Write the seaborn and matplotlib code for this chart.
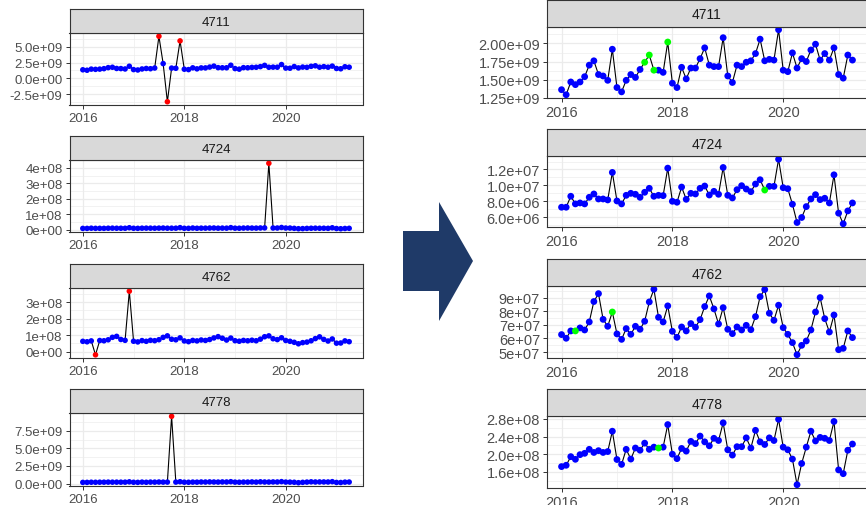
import numpy as np
import pandas as pd
import matplotlib
matplotlib.use("Agg")
import matplotlib.pyplot as plt
import seaborn as sns
from matplotlib.patches import Polygon

# ---------------------------------------------------------------- data
months = pd.date_range("2016-01-01", periods=64, freq="MS")
series_ids = ["4711", "4724", "4762", "4778"]

# cleaned monthly series
clean_4711 = np.array([
    1.36, 1.29, 1.467, 1.43, 1.467, 1.54, 1.70, 1.76, 1.57, 1.55,
    1.49, 1.92, 1.39, 1.33, 1.49, 1.57, 1.53, 1.64, 1.74, 1.84,
    1.63, 1.63, 1.60, 2.02, 1.45, 1.39, 1.67, 1.51, 1.66, 1.66,
    1.79, 1.94, 1.70, 1.68, 1.68, 2.08, 1.55, 1.46, 1.70, 1.68,
    1.74, 1.76, 1.86, 2.06, 1.76, 1.78, 1.77, 2.19, 1.63, 1.61,
    1.87, 1.66, 1.79, 1.75, 1.91, 1.99, 1.77, 1.86, 1.77, 1.94,
    1.57, 1.52, 1.84, 1.77]) * 1e9
clean_4724 = np.array([
    7.25, 7.25, 8.63, 7.67, 7.79, 7.67, 8.50, 8.92, 8.29, 8.29,
    8.17, 11.63, 8.04, 7.67, 8.75, 9.00, 8.88, 8.50, 9.13, 9.63,
    8.63, 8.75, 8.71, 12.17, 8.00, 7.88, 9.79, 8.25, 9.00, 8.92,
    9.63, 9.92, 8.79, 9.25, 8.88, 12.25, 8.75, 8.42, 9.46, 9.96,
    9.54, 9.21, 10.17, 10.71, 9.42, 9.88, 9.88, 13.29, 9.71, 9.58,
    7.63, 5.33, 5.96, 7.33, 8.29, 8.83, 8.21, 8.38, 7.79, 11.33,
    6.50, 5.17, 6.79, 7.79]) * 1e6
clean_4762 = np.array([
    6.28, 6.01, 6.55, 6.55, 6.77, 6.62, 7.21, 8.71, 9.29, 7.40,
    6.89, 7.94, 6.33, 5.93, 6.72, 6.30, 6.89, 6.67, 7.26, 8.68,
    9.61, 7.55, 7.21, 8.39, 6.52, 6.08, 6.84, 6.55, 7.09, 6.82,
    7.38, 8.34, 9.12, 8.17, 7.06, 8.26, 6.67, 6.35, 6.84, 6.62,
    6.96, 6.64, 7.60, 9.07, 9.59, 7.85, 7.33, 8.44, 6.79, 6.30,
    5.69, 4.80, 5.49, 5.81, 6.62, 7.94, 9.00, 7.45, 6.47, 7.72,
    5.17, 5.27, 6.55, 6.06]) * 1e7
clean_4778 = np.array([
    1.72, 1.75, 1.945, 1.885, 1.99, 2.02, 2.11, 2.04, 2.08, 2.04,
    2.06, 2.52, 1.88, 1.77, 2.11, 1.89, 2.14, 2.09, 2.25, 2.11,
    2.16, 2.14, 2.16, 2.67, 2.00, 1.90, 2.13, 2.07, 2.29, 2.24,
    2.41, 2.28, 2.19, 2.36, 2.31, 2.71, 2.10, 1.98, 2.17, 2.17,
    2.37, 2.14, 2.54, 2.28, 2.22, 2.37, 2.31, 2.79, 2.16, 2.10,
    1.89, 1.31, 1.79, 2.16, 2.52, 2.30, 2.38, 2.36, 2.31, 2.74,
    1.645, 1.56, 2.09, 2.23]) * 1e8

# original readings at the months that were replaced
raw_idx_4711 = [18, 19, 20, 23]
raw_val_4711 = [6.67e9, 2.34e9, -3.70e9, 5.94e9]
raw_idx_4724 = [44]
raw_val_4724 = [4.30e8]
raw_idx_4762 = [3, 11]
raw_val_4762 = [-1.9e7, 3.67e8]
raw_idx_4778 = [21]
raw_val_4778 = [9.54e9]

# months flagged as outliers in the raw series
flag_idx_4711 = [18, 20, 23]
flag_idx_4724 = [44]
flag_idx_4762 = [3, 11]
flag_idx_4778 = [21]

# axis breaks
x_breaks = [2016, 2018, 2020]
raw_yticks = {
    "4711": [-2.5e9, 0.0, 2.5e9, 5.0e9],
    "4724": [0.0, 1e8, 2e8, 3e8, 4e8],
    "4762": [0.0, 1e8, 2e8, 3e8],
    "4778": [0.0, 2.5e9, 5.0e9, 7.5e9],
}
clean_yticks = {
    "4711": [1.25e9, 1.50e9, 1.75e9, 2.00e9],
    "4724": [6.0e6, 8.0e6, 1.0e7, 1.2e7],
    "4762": [5e7, 6e7, 7e7, 8e7, 9e7],
    "4778": [1.6e8, 2.0e8, 2.4e8, 2.8e8],
}

clean = {"4711": clean_4711, "4724": clean_4724,
         "4762": clean_4762, "4778": clean_4778}
raw_idx = {"4711": raw_idx_4711, "4724": raw_idx_4724,
           "4762": raw_idx_4762, "4778": raw_idx_4778}
raw_val = {"4711": raw_val_4711, "4724": raw_val_4724,
           "4762": raw_val_4762, "4778": raw_val_4778}
flag_idx = {"4711": flag_idx_4711, "4724": flag_idx_4724,
            "4762": flag_idx_4762, "4778": flag_idx_4778}

# ---------------------------------------------------------------- style
sns.set_theme(style="white")
plt.rcParams["font.family"] = ["Liberation Sans", "DejaVu Sans"]

W, H = 866, 506
fig = plt.figure(figsize=(W / 100, H / 100), dpi=100)
fig.patch.set_facecolor("white")

t_years = (months.year + (months.month - 1) / 12.0).to_numpy(dtype=float)

BORDER = "#333333"
GRID = "#EBEBEB"
TICKTXT = "#4D4D4D"


def px_axes(x0, y0, x1, y1):
    """Axes from a pixel box measured from the top-left corner."""
    return fig.add_axes([x0 / W, 1 - y1 / H, (x1 - x0) / W, (y1 - y0) / H])


def sci_labels(ticks):
    parts = []
    for t in ticks:
        if t == 0:
            e, m = 0, 0.0
        else:
            e = int(np.floor(np.log10(abs(t)) + 1e-9))
            m = t / 10 ** e
        parts.append((m, e))
    dec = 0
    for m, _ in parts:
        for d in range(4):
            if abs(round(m, d) - m) < 1e-9:
                break
        dec = max(dec, d)
    return [f"{m:.{dec}f}e{e:+03d}" for m, e in parts]


def padded(lo, hi, frac=0.05):
    p = (hi - lo) * frac
    return lo - p, hi + p


def draw_panel(box, strip_h, title, values, kinds, palette, yticks,
               fs_tick, fs_strip, ms, lw):
    x0, y0, x1, y1 = box
    ax = px_axes(x0, y0 + strip_h, x1, y1)
    sax = px_axes(x0, y0, x1, y0 + strip_h)

    df = pd.DataFrame({"t": t_years, "v": values, "kind": kinds})
    sns.lineplot(data=df, x="t", y="v", color="black", linewidth=lw,
                 ax=ax, zorder=2)
    sns.scatterplot(data=df.sort_values("kind", key=lambda s: s != "normal",
                                        kind="stable"),
                    x="t", y="v", hue="kind", palette=palette, s=ms,
                    linewidth=0, ax=ax, legend=False, zorder=3)
    ax.set_xlabel("")
    ax.set_ylabel("")

    ax.set_xticks(x_breaks)
    ax.set_xticklabels([str(b) for b in x_breaks])
    ax.set_xticks([b - 1 for b in x_breaks] + [x_breaks[-1] + 1], minor=True)
    ax.set_yticks(yticks)
    ax.set_yticklabels(sci_labels(yticks))
    step = yticks[1] - yticks[0]
    ax.set_yticks([yticks[0] - step / 2] + [v + step / 2 for v in yticks],
                  minor=True)
    # continuous-scale expansion of 5% on both axes
    ax.set_xlim(*padded(t_years.min(), t_years.max()))
    ax.set_ylim(*padded(values.min(), values.max()))

    ax.set_facecolor("white")
    ax.grid(True, which="major", color=GRID, linewidth=0.9)
    ax.grid(True, which="minor", color=GRID, linewidth=0.45)
    ax.set_axisbelow(True)
    ax.tick_params(which="major", length=3, width=0.7, color=BORDER,
                   labelcolor=TICKTXT, labelsize=fs_tick, pad=2,
                   bottom=True, left=True)
    ax.tick_params(which="minor", length=0)
    for sp in ax.spines.values():
        sp.set_color(BORDER)
        sp.set_linewidth(0.8)

    sax.set_facecolor("#D9D9D9")
    sax.set_xticks([])
    sax.set_yticks([])
    for sp in sax.spines.values():
        sp.set_color(BORDER)
        sp.set_linewidth(0.8)
    sax.text(0.5, 0.45, title, transform=sax.transAxes, ha="center",
             va="center", fontsize=fs_strip, color="#1A1A1A")


# ---------------------------------------------------------------- layout
left_boxes = {
    "4711": (69.5, 10, 362.5, 106),
    "4724": (69.5, 137, 362.5, 233),
    "4762": (69.5, 265, 362.5, 359),
    "4778": (69.5, 390, 362.5, 487),
}
right_boxes = {
    "4711": (547, 0.5, 867, 99),
    "4724": (547, 130, 867, 228),
    "4762": (547, 260, 867, 359),
    "4778": (547, 390, 867, 489),
}

for sid in series_ids:
    # raw series: outliers marked in red
    raw = clean[sid].copy()
    raw[raw_idx[sid]] = raw_val[sid]
    kinds_raw = np.array(["normal"] * len(raw), dtype=object)
    kinds_raw[flag_idx[sid]] = "outlier"
    draw_panel(left_boxes[sid], 24, sid, raw, kinds_raw,
               {"normal": "#0000FF", "outlier": "#FF0000"},
               raw_yticks[sid], 9.5, 9.5, 16, 0.8)

    # cleaned series: replaced values marked in green
    kinds_clean = np.array(["normal"] * len(raw), dtype=object)
    kinds_clean[raw_idx[sid]] = "replaced"
    draw_panel(right_boxes[sid], 27, sid, clean[sid], kinds_clean,
               {"normal": "#0000FF", "replaced": "#00FF00"},
               clean_yticks[sid], 10.5, 10, 24, 0.8)

# block arrow between the two columns
arrow_px = [(403, 232), (439, 232), (439, 203), (473, 262),
            (439, 322), (439, 292), (403, 292)]
arrow = Polygon([(x / W, 1 - y / H) for x, y in arrow_px], closed=True,
                transform=fig.transFigure, facecolor="#1F3A68",
                edgecolor="none")
fig.add_artist(arrow)

fig.savefig("out.png", dpi=100)
